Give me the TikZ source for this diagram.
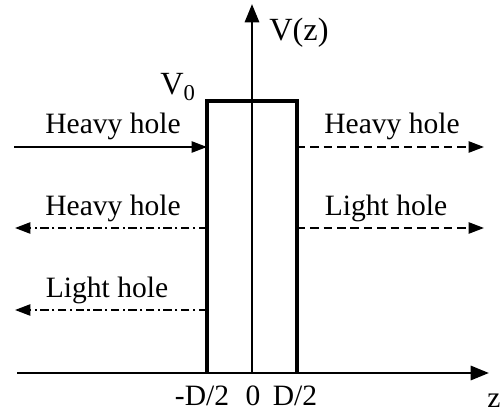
\documentclass[tikz,border=0pt]{standalone}
\usepackage{fontspec}
\setmainfont{Liberation Serif}
\usetikzlibrary{arrows.meta,positioning}

\tikzset{
  lbl/.style={font=\fontsize{21}{24}\selectfont, inner sep=0pt},
  big/.style={font=\fontsize{23}{26}\selectfont, inner sep=0pt},
  axis/.style={line width=2pt, -{Triangle[length=13pt,width=10pt]}},
  wall/.style={line width=2.4pt},
  wave/.style={line width=1.4pt, -{Triangle[length=11pt,width=8pt]}},
  dashwave/.style={wave, dash pattern=on 6pt off 3.5pt},
  dotwave/.style={wave, dash pattern=on 6pt off 2.5pt on 1.5pt off 2.5pt},
}

\begin{document}
\begin{tikzpicture}[x=0.025cm,y=-0.025cm]

\useasboundingbox (0,0) rectangle (502,415);

% Axes
\coordinate (zl) at (17,373);
\coordinate (zr) at (489,373);
\coordinate (vb) at (252,373);
\coordinate (vt) at (252,4);
\draw[axis] (zl) -- (zr);
\draw[axis] (vb) -- (vt);
\node[big] (vlab) at (299,33) {V(z)};
\node[lbl] (zlab) at (494,401) {z};

% Barrier
\coordinate (bl) at (207,373);
\coordinate (tl) at (207,101);
\coordinate (tr) at (297,101);
\coordinate (br) at (297,373);
\draw[wall,line join=miter] (bl) -- (tl) -- (tr) -- (br);
\node[big] (vzero) at (178,87) {V\textsubscript{0}};

% Tick labels
\node[lbl] (mhalf) at (202,396) {-D/2};
\node[lbl] (zero)  at (253,396) {0};
\node[lbl] (phalf) at (295,396) {D/2};

% ---- Row 1: incident and transmitted ----
\coordinate (in1)  at (14,147);
\coordinate (wl1)  at (207,147);
\coordinate (wr1)  at (297,147);
\coordinate (out1) at (484,147);
\draw[wave] (in1) -- (wl1);
\draw[dashwave] (wr1) -- (out1);
\node[lbl] (hh1) at (113,126) {Heavy hole};
\node[lbl] (hh2) at (392,126) {Heavy hole};

% ---- Row 2: reflected heavy, transmitted light ----
\coordinate (wl2)  at (207,228);
\coordinate (ref2) at (15,228);
\coordinate (wr2)  at (297,228);
\coordinate (out2) at (484,228);
\draw[dotwave] (wl2) -- (ref2);
\draw[dashwave] (wr2) -- (out2);
\node[lbl] (hh3) at (113,208) {Heavy hole};
\node[lbl] (lh1) at (386,208) {Light hole};

% ---- Row 3: reflected light ----
\coordinate (wl3)  at (207,310);
\coordinate (ref3) at (15,310);
\draw[dotwave] (wl3) -- (ref3);
\node[lbl] (lh2) at (107,290) {Light hole};

\end{tikzpicture}
\end{document}
